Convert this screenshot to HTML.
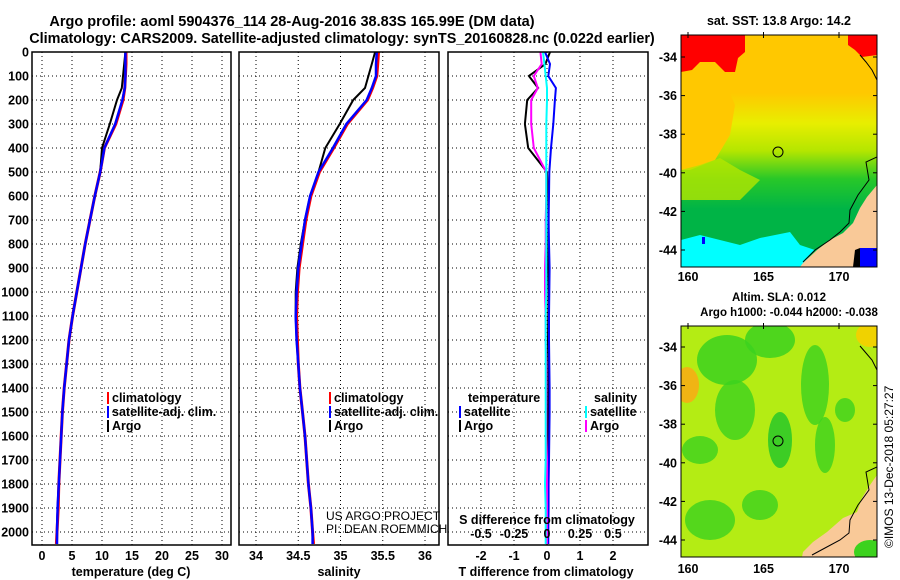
<!DOCTYPE html>
<html><head><meta charset="utf-8"><style>
html,body{margin:0;padding:0;background:#fff;}
svg{display:block;font-family:"Liberation Sans",Arial,sans-serif;font-weight:bold;}
</style></head><body>
<svg id="chart" width="900" height="580" viewBox="0 0 900 580" xmlns="http://www.w3.org/2000/svg">
<defs>
<linearGradient id="sstg" x1="0" y1="0" x2="0" y2="1">
<stop offset="0" stop-color="#ffc800"/><stop offset="0.25" stop-color="#ffc800"/><stop offset="0.38" stop-color="#e8ee00"/><stop offset="0.5" stop-color="#b4e600"/><stop offset="0.62" stop-color="#28c828"/><stop offset="0.75" stop-color="#00b446"/><stop offset="1" stop-color="#00b446"/>
</linearGradient>
<clipPath id="clipTop"><rect x="681" y="35" width="196" height="232"/></clipPath>
<clipPath id="clipBot"><rect x="681" y="326" width="196" height="231"/></clipPath>
</defs>
<text x="292" y="26" text-anchor="middle" font-size="14.5">Argo profile: aoml 5904376_114 28-Aug-2016 38.83S 165.99E (DM data)</text>
<text x="342" y="43" text-anchor="middle" font-size="14.4">Climatology: CARS2009. Satellite-adjusted climatology: synTS_20160828.nc (0.022d earlier)</text>
<g id="panels"></g>
<g id="maps">
<text x="779" y="25" text-anchor="middle" font-size="12.5">sat. SST: 13.8 Argo: 14.2</text>
<g clip-path="url(#clipTop)">
<rect x="681" y="35" width="196" height="232" fill="url(#sstg)"/>
<polygon points="681,35 745,35 745,52 738,58 735,72 725,72 715,62 700,62 692,70 681,72" fill="#ff0000"/>
<polygon points="848,35 877,35 877,55 862,57 855,50 848,45" fill="#ff0000"/>
<polygon points="681,72 720,70 735,105 730,135 715,160 690,170 681,170" fill="#ffc800"/>
<polygon points="681,170 700,165 720,158 740,170 760,180 740,200 681,200" fill="#b4e600" opacity="0.8"/>
<polygon points="681,228 720,228 760,225 790,230 800,245 780,250 681,245" fill="#00b446"/>
<polygon points="681,240 700,235 720,240 740,245 760,238 790,232 800,245 815,250 800,267 681,267" fill="#00ffff"/>
<polygon points="877,185 867,197 860,208 853,223 843,233 830,240 817,250 803,263 800,267 877,267" fill="#f9c998"/>
<rect x="860" y="248" width="17" height="19" fill="#0000ff"/>
<polygon points="855,250 860,248 860,267 853,267" fill="#000"/>
<rect x="702" y="237" width="3" height="7" fill="#0000ff"/>
<polyline points="877,157 866,162 869,180 858,195 850,210 849,223 840,232 830,240 815,250 803,262" fill="none" stroke="#000" stroke-width="1"/>
<polyline points="860,55 866,62 872,70 877,80" fill="none" stroke="#000" stroke-width="1"/>
<circle cx="778" cy="152" r="5" fill="none" stroke="#000" stroke-width="1"/>
</g>
<rect x="681" y="35" width="196" height="232" fill="none" stroke="#000" stroke-width="1"/>
<text x="779" y="301" text-anchor="middle" font-size="11.5">Altim. SLA: 0.012</text>
<text x="789" y="316" text-anchor="middle" font-size="11.5">Argo h1000: -0.044 h2000: -0.038</text>
<g clip-path="url(#clipBot)">
<rect x="681" y="326" width="196" height="231" fill="#b4ec14"/>
<ellipse cx="727" cy="360" rx="30" ry="25" fill="#3cd21e" opacity="0.85"/>
<ellipse cx="770" cy="340" rx="25" ry="18" fill="#3cd21e" opacity="0.85"/>
<ellipse cx="815" cy="385" rx="14" ry="40" fill="#3cd21e" opacity="0.8"/>
<ellipse cx="735" cy="410" rx="20" ry="30" fill="#3cd21e" opacity="0.8"/>
<ellipse cx="780" cy="440" rx="12" ry="28" fill="#28c828" opacity="0.85"/>
<ellipse cx="825" cy="445" rx="10" ry="28" fill="#3cd21e" opacity="0.8"/>
<ellipse cx="700" cy="450" rx="18" ry="14" fill="#3cd21e" opacity="0.8"/>
<ellipse cx="710" cy="520" rx="25" ry="20" fill="#3cd21e" opacity="0.8"/>
<ellipse cx="760" cy="505" rx="18" ry="15" fill="#3cd21e" opacity="0.8"/>
<ellipse cx="845" cy="410" rx="10" ry="12" fill="#3cd21e" opacity="0.8"/>
<ellipse cx="687" cy="385" rx="12" ry="18" fill="#f0b414"/>
<ellipse cx="870" cy="335" rx="14" ry="12" fill="#f0d200"/>
<polygon points="877,475 870,485 862,498 857,512 843,518 827,532 813,542 803,552 802,557 877,557" fill="#f9c998"/>
<ellipse cx="870" cy="552" rx="16" ry="12" fill="#3cd21e"/>
<polyline points="877,467 866,472 869,490 858,505 850,520 849,533 840,540 825,548 812,555" fill="none" stroke="#000" stroke-width="1"/>
<polyline points="860,346 866,353 872,360 877,370" fill="none" stroke="#000" stroke-width="1"/>
<circle cx="778" cy="441" r="5" fill="none" stroke="#000" stroke-width="1"/>
</g>
<rect x="681" y="326" width="196" height="231" fill="none" stroke="#000" stroke-width="1"/>
<text transform="translate(893,548) rotate(-90)" font-size="12" font-weight="normal">©IMOS 13-Dec-2018 05:27:27</text>
</g>
</svg>
<script>
// ---------- data ----------
const depths = [0,50,100,150,200,300,400,500,600,700,800,900,1000,1100,1200,1300,1400,1500,1600,1700,1800,1900,2000,2050];
const tempClim = [14.0,14.0,13.9,13.8,13.5,12.3,10.4,9.7,8.8,8.0,7.2,6.5,5.8,5.1,4.5,4.1,3.7,3.4,3.2,3.0,2.8,2.7,2.5,2.4];
const tempSat  = [13.9,13.9,13.9,13.8,13.4,12.2,10.4,9.7,8.8,8.0,7.2,6.5,5.8,5.1,4.5,4.1,3.7,3.4,3.2,3.0,2.8,2.6,2.5,2.5];
const tempArgo = [13.9,13.7,13.5,13.3,12.5,11.3,10.0,9.7,8.8,8.0,7.2,6.5,5.8,5.1,4.5,4.1,3.7,3.4,3.2,3.0,2.8,2.6,2.5,2.5];
const salClim = [35.45,35.44,35.43,35.38,35.32,35.08,34.92,34.75,34.65,34.59,34.55,34.51,34.49,34.48,34.49,34.5,34.52,34.55,34.58,34.6,34.62,34.65,34.67,34.68];
const salSat  = [35.43,35.42,35.42,35.37,35.31,35.07,34.91,34.74,34.64,34.58,34.54,34.5,34.48,34.47,34.48,34.5,34.52,34.55,34.58,34.6,34.62,34.65,34.67,34.67];
const salArgo = [35.41,35.37,35.33,35.29,35.15,34.99,34.82,34.74,34.64,34.58,34.53,34.49,34.47,34.47,34.48,34.5,34.52,34.55,34.58,34.6,34.62,34.65,34.67,34.67];
const dTsat  = [-0.06,0.09,0.04,0.27,0.24,0.19,0.12,0.07,0.06,0.05,0.06,0.08,0.07,0.06,0.06,0.07,0.08,0.08,0.07,0.06,0.05,0.05,0.04,0.04];
const dTargo = [0.09,-0.05,-0.55,-0.27,-0.6,-0.67,-0.57,0.0,0.04,0.05,0.04,0.03,0.05,0.04,0.03,0.04,0.04,0.03,0.03,0.03,0.02,0.02,0.02,0.02];
const dSsat  = [-0.03,-0.02,-0.01,0.0,0.0,-0.005,-0.005,-0.005,-0.005,-0.005,-0.005,-0.005,-0.005,-0.01,-0.01,-0.01,-0.01,-0.01,-0.01,-0.01,-0.015,-0.01,-0.01,-0.01];
const dSargo = [-0.05,-0.04,-0.1,-0.07,-0.12,-0.12,-0.1,-0.005,-0.005,-0.01,-0.01,-0.015,-0.015,-0.01,-0.01,-0.005,-0.005,-0.005,-0.005,0.0,0.0,0.0,0.0,0.0];
const depthTicks = [0,100,200,300,400,500,600,700,800,900,1000,1100,1200,1300,1400,1500,1600,1700,1800,1900,2000];
const tempTicks = [0,5,10,15,20,25,30];
const salTicks = [34,34.5,35,35.5,36];
const salTickLabels = ["34","34.5","35","35.5","36"];
const dTTicks = [-2,-1,0,1,2];
const dSTicks = [-0.5,-0.25,0,0.25,0.5];
const dSTickLabels = ["-0.5","-0.25","0","0.25","0.5"];
const latTicks = [-34,-36,-38,-40,-42,-44];
const lonTicks = [160,165,170];

// ---------- geometry ----------
const NS='http://www.w3.org/2000/svg';
const top0=52, bot=545;
const yD = d => top0 + d*0.24;
const panels = [
  {x0:32,x1:231, sx:v=>42+v*6},
  {x0:239,x1:439, sx:v=>256+(v-34)*84.5},
  {x0:448,x1:648, sx:v=>547+v*33}
];
const sxS = v => 547 + v*132;
const g = document.getElementById('panels');
function el(tag, attrs, parent, txt){
  const e=document.createElementNS(NS,tag);
  for(const k in attrs) e.setAttribute(k,attrs[k]);
  if(txt!==undefined) e.textContent=txt;
  (parent||g).appendChild(e); return e;
}
function grid(p, ticks, sx){
  ticks.forEach(t=>{ el('line',{x1:sx(t),x2:sx(t),y1:top0,y2:bot,stroke:'#000','stroke-width':1,'stroke-dasharray':'1,3'}); });
  depthTicks.forEach(d=>{ el('line',{x1:p.x0,x2:p.x1,y1:yD(d),y2:yD(d),stroke:'#000','stroke-width':1,'stroke-dasharray':'1,3'}); });
}
function line(vals, sx, color, name, w){
  const pts = vals.map((v,i)=>sx(v).toFixed(1)+','+yD(depths[i]).toFixed(1)).join(' ');
  const pl = el('polyline',{points:pts,fill:'none',stroke:color,'stroke-width':w||2.5});
  
  
}
function legend(x,y,color,label,name){
  el('rect',{x:x,y:y-10,width:2,height:12,fill:color});
  const t = el('text',{x:x+5,y:y,'font-size':12.5},undefined,label);
  
  
}
// panel 1
grid(panels[0], tempTicks, panels[0].sx);
line(tempClim, panels[0].sx, '#ff0000', 'temp-climatology-line', 3);
line(tempArgo, panels[0].sx, '#000000', 'temp-argo-line', 2);
line(tempSat, panels[0].sx, '#0000ff', 'temp-satellite-line', 2.5);
// panel 2
grid(panels[1], salTicks, panels[1].sx);
line(salClim, panels[1].sx, '#ff0000', 'sal-climatology-line', 3);
line(salArgo, panels[1].sx, '#000000', 'sal-argo-line', 2);
line(salSat, panels[1].sx, '#0000ff', 'sal-satellite-line', 2.5);
// panel 3
grid(panels[2], dTTicks, panels[2].sx);
line(dTargo, panels[2].sx, '#000000', 'dt-argo-line', 2);
line(dTsat, panels[2].sx, '#0000ff', 'dt-satellite-line', 2);
line(dSargo, sxS, '#ff00ff', 'ds-argo-line', 2);
line(dSsat, sxS, '#00ffff', 'ds-satellite-line', 2);
// frames
panels.forEach((p,i)=>{
  const r = el('rect',{x:p.x0,y:top0,width:p.x1-p.x0,height:bot-top0,fill:'none',stroke:'#000','stroke-width':1.5});
  
  
});
// y tick labels
depthTicks.forEach(d=>{
  const t = el('text',{x:29,y:yD(d)+4.5,'text-anchor':'end','font-size':12.5},undefined,String(d));
  
  
});
// x tick labels
tempTicks.forEach(v=>{ const t=el('text',{x:panels[0].sx(v),y:560,'text-anchor':'middle','font-size':12.5},undefined,String(v));
    });
salTicks.forEach((v,i)=>{ const t=el('text',{x:panels[1].sx(v),y:560,'text-anchor':'middle','font-size':12.5},undefined,salTickLabels[i]);
    });
dTTicks.forEach(v=>{ const t=el('text',{x:panels[2].sx(v),y:560,'text-anchor':'middle','font-size':12.5},undefined,String(v));
    });
dSTicks.forEach((v,i)=>{ const t=el('text',{x:sxS(v),y:538,'text-anchor':'middle','font-size':12.5},undefined,dSTickLabels[i]);
    });
// axis titles
[[131,'temperature (deg C)','x-axis-title-temperature'],[339,'salinity','x-axis-title-salinity'],[546,'T difference from climatology','x-axis-title-t-diff']].forEach(a=>{
  const t=el('text',{x:a[0],y:576,'text-anchor':'middle','font-size':12.5},undefined,a[1]);
   
});
const sdt = el('text',{x:547,y:524,'text-anchor':'middle','font-size':12.5},undefined,'S difference from climatology');
 
// legends
legend(107,402,'#ff0000','climatology','legend-temp-climatology');
legend(107,416,'#0000ff','satellite-adj. clim.','legend-temp-satellite');
legend(107,430,'#000000','Argo','legend-temp-argo');
legend(329,402,'#ff0000','climatology','legend-sal-climatology');
legend(329,416,'#0000ff','satellite-adj. clim.','legend-sal-satellite');
legend(329,430,'#000000','Argo','legend-sal-argo');
const lt = el('text',{x:468,y:402,'font-size':12.5},undefined,'temperature');
 
const ls = el('text',{x:594,y:402,'font-size':12.5},undefined,'salinity');
 
legend(459,416,'#0000ff','satellite','legend-dt-satellite');
legend(459,430,'#000000','Argo','legend-dt-argo');
legend(585,416,'#00ffff','satellite','legend-ds-satellite');
legend(585,430,'#ff00ff','Argo','legend-ds-argo');
// credit
const c1 = el('text',{x:326,y:520,'font-size':12,'font-weight':'normal'},undefined,'US ARGO PROJECT');
 
const c2 = el('text',{x:326,y:533,'font-size':12,'font-weight':'normal'},undefined,'PI: DEAN ROEMMICH');
 
// map axes
const maps = document.getElementById('maps');
const latY1 = l => 57 + (-34 - l)*19.3;
const latY2 = l => 347 + (-34 - l)*19.3;
const lonX = l => 688 + (l-160)*15.1;
latTicks.forEach(l=>{
  [latY1(l), latY2(l)].forEach(y=>{
    el('line',{x1:681,x2:685,y1:y,y2:y,stroke:'#000'},maps);
    el('line',{x1:873,x2:877,y1:y,y2:y,stroke:'#000'},maps);
    const t=el('text',{x:677,y:y+4.5,'text-anchor':'end','font-size':12.5},maps,String(l));
     
  });
});
lonTicks.forEach(l=>{
  [[35,267,281],[326,557,573]].forEach(r=>{
    el('line',{x1:lonX(l),x2:lonX(l),y1:r[0]-3,y2:r[0]+3,stroke:'#000'},maps);
    const t=el('text',{x:lonX(l),y:r[2],'text-anchor':'middle','font-size':12.5},maps,String(l));
     
  });
});
</script>
</body></html>
